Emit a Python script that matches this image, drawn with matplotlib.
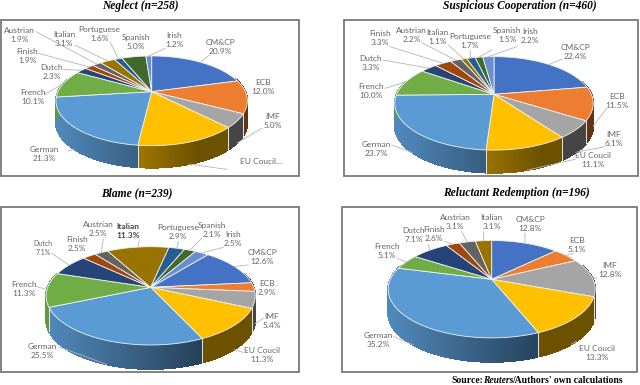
import numpy as np
import matplotlib as mpl
import matplotlib.pyplot as plt
from matplotlib.collections import PolyCollection
from matplotlib.colors import to_rgb

names = ['CM&CP', 'ECB', 'IMF', 'EU Coucil', 'German', 'French', 'Dutch', 'Finish',
         'Austrian', 'Italian', 'Portuguese', 'Spanish', 'Irish']
colors = ['#4472C4', '#ED7D31', '#A5A5A5', '#FFC000', '#5B9BD5', '#70AD47', '#264478',
          '#9E480E', '#636363', '#997300', '#255E91', '#43682B', '#698ED0']

neglect = [20.9, 12.0, 5.0, 14.3, 21.3, 10.1, 2.3, 1.9, 1.9, 3.1, 1.6, 5.0, 1.2]
suspicious = [22.4, 11.5, 6.1, 11.1, 23.7, 10.0, 3.3, 3.3, 2.2, 1.1, 1.7, 1.5, 2.2]
blame = [12.6, 2.9, 5.4, 11.3, 25.5, 11.3, 7.1, 2.5, 2.5, 11.3, 2.9, 2.1, 2.5]
# no Portuguese, Spanish or Irish slice in this one
reluctant = [12.8, 5.1, 12.8, 13.3, 35.2, 5.1, 7.1, 2.6, 3.1, 3.1]

titles = ['Neglect (n=258)', 'Suspicious Cooperation (n=460)', 'Blame (n=239)',
          'Reluctant Redemption (n=196)']

# layout below is in 3x crop coordinates, one origin per panel
panels = [
    dict(values=neglect, title=titles[0], ox=0, oy=0, box=(3, 60, 897, 528), title_xy=(420, 18),
         apex=(455, 275), sx=281, sy=129, k=0.204, depth=66, rot=0,
         text=[(662, 142), (788, 261), (818, 363), (782, 485), (132, 463), (98, 290), (155, 216),
               (82, 169), (58, 104), (192, 118), (298, 102), (407, 125), (523, 121)],
         lead=[(628, 165), None, (785, 385), (680, 508), (205, 453), (135, 282), (190, 208),
               (115, 160), (108, 95), (225, 135), (330, 125), None, (495, 145)]),
    dict(values=suspicious, title=titles[1], ox=320, oy=0, box=(72, 60, 955, 528), title_xy=(600, 18),
         apex=(522, 283), sx=292, sy=135, k=0.193, depth=68, rot=0,
         text=[(766, 155), (890, 304), (880, 418), (818, 481), (170, 447), (152, 274), (153, 190),
               (180, 114), (275, 105), (353, 112), (450, 124), (562, 105), (630, 108)],
         lead=[(725, 178), (860, 325), (855, 440), (765, 478), (215, 435), (195, 265), (190, 180),
               (210, 140), (305, 128), (385, 135), (450, 150), (515, 150), (590, 140)]),
    dict(values=blame, title=titles[2], ox=0, oy=190, box=(3, 52, 897, 547), title_xy=(412, 9),
         apex=(452, 292), sx=309, sy=143, k=0.173, depth=72, rot=39,
         text=[(787, 202), (800, 293), (815, 394), (785, 496), (128, 482), (73, 296), (129, 173),
               (231, 161), (295, 116), (384, 123), (535, 125), (635, 121), (700, 148)],
         lead=[(745, 225), None, (790, 385), (730, 487), (175, 470), (110, 290), (155, 190),
               None, (310, 148), (418, 150), (535, 155), (605, 145), (670, 172)]),
    dict(values=reluctant, title=titles[3], ox=320, oy=190, box=(67, 52, 952, 547), title_xy=(590, 9),
         apex=(515, 268), sx=304, sy=140, k=0.203, depth=72, rot=0,
         text=[(630, 103), (770, 164), (870, 239), (830, 488), (176, 451), (200, 183), (282, 134),
               (342, 132), (406, 96), (515, 96)],
         lead=[(615, 130), (760, 190), (830, 265), (755, 462), (222, 440), (232, 205), (325, 165),
               (375, 155), (425, 125), (490, 125)]),
]


def rim(p, deg):
    # tilted circle with a bit of perspective, angle runs clockwise from the top
    t = np.radians(np.asarray(deg, dtype=float) + p['rot'])
    X, Y = np.sin(t), np.cos(t)
    w = 1 + p['k'] * Y
    return p['apex'][0] + p['sx'] * X / w, p['apex'][1] - p['sy'] * Y / w, X / w, Y


def draw_side(ax, p, start, stop, color):
    deg = np.linspace(start, stop, max(int(stop - start) * 2, 2) + 1)
    x, y, xn, Y = rim(p, deg)
    d = p['depth']
    polys, faces = [], []
    base = np.array(to_rgb(color))
    for i in range(len(deg) - 1):
        if Y[i] > 0.3 and Y[i + 1] > 0.3:
            continue
        polys.append([(x[i], y[i]), (x[i + 1], y[i + 1]), (x[i + 1], y[i + 1] + d), (x[i], y[i] + d)])
        faces.append(base * np.interp(xn[i], [-1, 0.5], [0.88, 0.42]))
    if polys:
        ax.add_collection(PolyCollection(polys, facecolors=faces, edgecolors=faces, linewidths=0.6,
                                         antialiaseds=False, zorder=2))


plt.rcParams['font.family'] = ['Lato', 'DejaVu Sans']
fig = plt.figure(figsize=(6.4, 3.85), dpi=100)
ax = fig.add_axes([0, 0, 1, 1])
ax.set_xlim(0, 1920)
ax.set_ylim(1155, 0)
ax.axis('off')

for p in panels:
    ox, oy = p['ox'] * 3, p['oy'] * 3
    # shift the layout of the panel to figure position
    p['apex'] = (p['apex'][0] + ox, p['apex'][1] + oy)
    x0, y0, x1, y1 = p['box']
    ax.add_patch(plt.Rectangle((x0 + ox, y0 + oy), x1 - x0, y1 - y0, fc='white', ec='#7a7a7a', lw=1.3, zorder=1))
    ax.text(p['title_xy'][0] + ox, p['title_xy'][1] + oy, p['title'], family='Liberation Serif', weight='bold',
            style='italic', fontsize=8.3, color='black', ha='center', va='center', zorder=6)

    vals = np.array(p['values'], dtype=float)
    edges = np.concatenate([[0], np.cumsum(vals)]) / vals.sum() * 360

    for i in range(len(vals)):
        draw_side(ax, p, edges[i], edges[i + 1], colors[i])
    for e in edges[:-1]:
        x, y, xn, Y = rim(p, e)
        if Y < -p['k']:
            ax.plot([x, x], [y, y + p['depth']], color='#e8e8e8', lw=0.7, zorder=3)
    for i in range(len(vals)):
        deg = np.linspace(edges[i], edges[i + 1], max(int(edges[i + 1] - edges[i]), 2) + 1)
        x, y, xn, Y = rim(p, deg)
        ax.fill(np.r_[p['apex'][0], x], np.r_[p['apex'][1], y], facecolor=colors[i], edgecolor='#f2f2f2',
                lw=0.6, zorder=4)

    for i in range(len(vals)):
        mid = (edges[i] + edges[i + 1]) / 2
        x, y, xn, Y = rim(p, mid)
        if Y < -p['k']:
            y = y + p['depth']
        if p['lead'][i] is not None:
            sx, sy = p['lead'][i]
            ax.plot([sx + ox, x], [sy + oy, y], color='#b5b5b5', lw=0.6, zorder=5)
        label = '%s\n%.1f%%' % (names[i], vals[i])
        size, col, weight = 6.0, '#666666', 'normal'
        if p['values'] is neglect and names[i] == 'EU Coucil':
            label = 'EU Coucil...'
        if p['values'] is blame and names[i] == 'Dutch':
            size = 5
        if p['values'] is blame and names[i] == 'Italian':
            col, weight = '#444444', 'bold'
        tx, ty = p['text'][i]
        ax.text(tx + ox, ty + oy, label, fontsize=size, color=col, weight=weight, ha='center', va='center',
                linespacing=1.3, zorder=6)

# source line, Reuters in italics
ax.text(1353, 1141, 'Source:', family='Liberation Serif', weight='bold', fontsize=6.9, va='center')
ax.text(1450, 1141, 'Reuters', family='Liberation Serif', weight='bold', style='italic', fontsize=6.9, va='center')
ax.text(1536, 1141, "/Authors' own calculations", family='Liberation Serif', weight='bold', fontsize=6.9, va='center')

plt.savefig('out.png', dpi=100)
plt.close()
